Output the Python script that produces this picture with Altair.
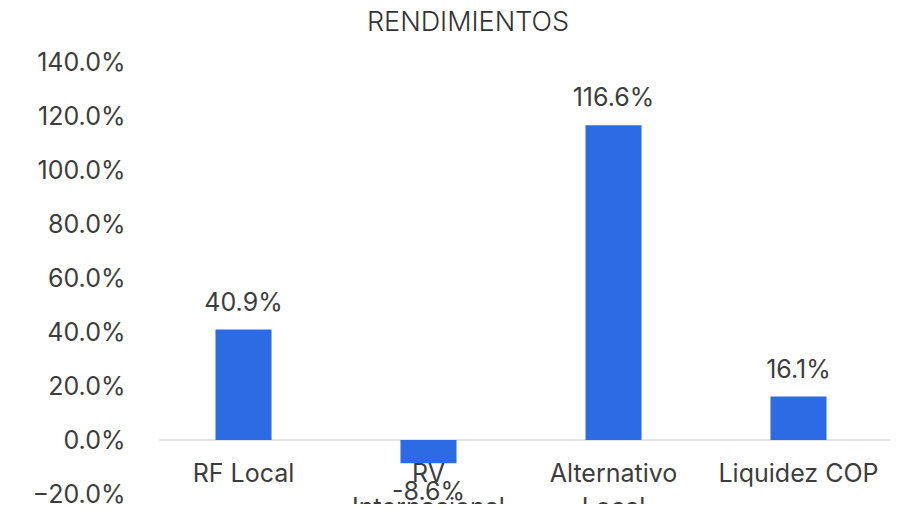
import altair as alt
import pandas as pd

categories = ["RF Local", "RV Internacional", "Alternativo Local", "Liquidez COP"]
labels = ["RF Local", "RV\nInternacional", "Alternativo\nLocal", "Liquidez COP"]
values = [40.9, -8.6, 116.6, 16.1]
y_ticks = [-20, 0, 20, 40, 60, 80, 100, 120, 140]

df = pd.DataFrame({"cat": categories, "label": labels, "value": values})
df["txt"] = [f"{v:.1f}%" for v in values]

FONT = "Inter"
TXT = "#3d3d3d"
BLUE = "#2D6BE4"

x = alt.X("cat:N", sort=categories, axis=None,
          scale=alt.Scale(paddingInner=0.697, paddingOuter=0.3485))
y_scale = alt.Scale(domain=[-20, 140], nice=False, zero=False)

base = alt.Chart(df)

zero_rule = base.mark_rule(color="#e6e6e6", strokeWidth=1.5).encode(
    y=alt.datum(0, scale=y_scale), x=alt.value(8), x2=alt.value(740)
)

bars = base.mark_bar(color=BLUE).encode(
    x=x,
    y=alt.Y("value:Q", scale=y_scale, title=None,
            axis=alt.Axis(values=y_ticks, labelExpr="format(datum.value, '.1f') + '%'",
                          grid=False, domain=False, ticks=False, labelPadding=26,
                          labelFont=FONT, labelFontSize=25, labelColor=TXT)),
    y2=alt.datum(0),
)

pos_labels = base.transform_filter("datum.value >= 0").mark_text(
    font=FONT, fontSize=25, color=TXT, baseline="alphabetic", dy=-19
).encode(x=x, y=alt.Y("value:Q", scale=y_scale), text="txt:N")

neg_labels = base.transform_filter("datum.value < 0").mark_text(
    font=FONT, fontSize=25, color=TXT, baseline="alphabetic", dy=37
).encode(x=x, y=alt.Y("value:Q", scale=y_scale), text="txt:N")

cat_labels = base.mark_text(
    font=FONT, fontSize=25, color=TXT, baseline="alphabetic", dy=42,
    lineBreak="\n", lineHeight=34
).encode(x=x, y=alt.datum(0, scale=y_scale), text="label:N")

chart = alt.layer(zero_rule, bars, pos_labels, neg_labels, cat_labels).properties(
    width=740, height=432,
    title=alt.TitleParams("RENDIMIENTOS", font=FONT, fontSize=27, fontWeight=300,
                          color="#333333", anchor="middle", dx=-53, offset=13),
    autosize=alt.AutoSizeParams(type="none"),
    padding={"left": 143, "top": 54, "right": 0, "bottom": 10},
).configure_view(stroke=None)

chart.save("out.html", embed_options={"renderer": "svg", "actions": False})
